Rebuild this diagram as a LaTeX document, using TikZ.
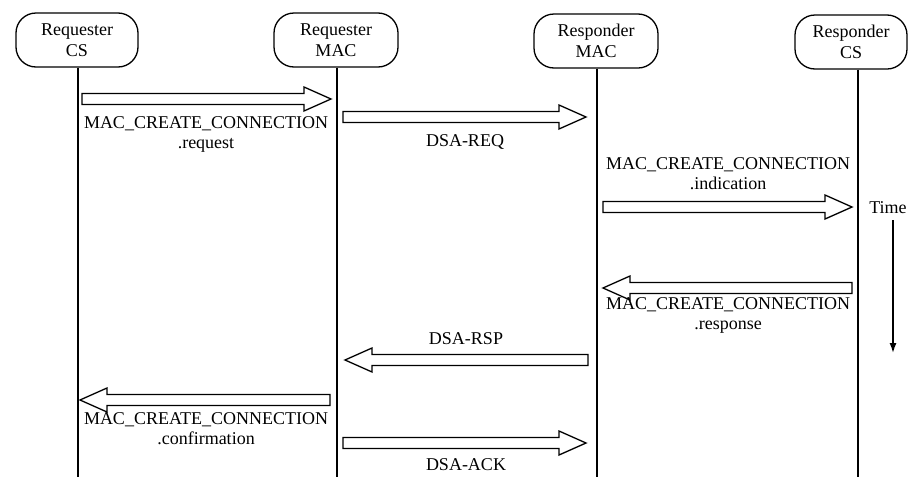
\documentclass[tikz,border=0pt]{standalone}
\usepackage{fontspec}
\setmainfont{Liberation Serif}
\newfontfamily\diagfont{Liberation Serif}
\usetikzlibrary{calc,arrows.meta}
% hollow block arrow from #1 to #2 (horizontal)
\newcommand\blockarrow[2]{%
  \draw[blk] ($(#1)+(0,-5.5)$) -- ($(#2)!27pt!(#1)+(0,-5.5)$)
    -- ($(#2)!27pt!(#1)+(0,-12)$) -- (#2)
    -- ($(#2)!27pt!(#1)+(0,12)$) -- ($(#2)!27pt!(#1)+(0,5.5)$)
    -- ($(#1)+(0,5.5)$) -- cycle;}
\begin{document}
\begin{tikzpicture}[x=1pt,y=-1pt,
  party/.style={draw, line width=1.3pt, rounded corners=20pt,
    minimum height=54pt, align=center,
    font=\diagfont\fontsize{18}{21}\selectfont, inner sep=0pt},
  life/.style={line width=1.8pt},
  msg/.style={align=center, font=\diagfont\fontsize{18}{20}\selectfont, inner sep=0pt},
  blk/.style={draw, line width=1.3pt, fill=white, line join=miter}]
\useasboundingbox (0,0) rectangle (912,477);

% participants
\node[party, minimum width=122pt] (h1) at (77,40) {Requester\\CS};
\node[party, minimum width=124pt] (h2) at (336,40) {Requester\\MAC};
\node[party, minimum width=124pt] (h3) at (596,41) {Responder\\MAC};
\node[party, minimum width=112pt] (h4) at (851,42) {Responder\\CS};

% lifelines
\coordinate (b1) at (78,477);
\coordinate (b2) at (337,477);
\coordinate (b3) at (597,477);
\coordinate (b4) at (858,477);
\draw[life] (h1.south -| b1) -- (b1);
\draw[life] (h2.south -| b2) -- (b2);
\draw[life] (h3.south -| b3) -- (b3);
\draw[life] (h4.south -| b4) -- (b4);

% message end points
\coordinate (m1s) at (82,99);   \coordinate (m1e) at (331,99);
\coordinate (m2s) at (343,117); \coordinate (m2e) at (586,117);
\coordinate (m3s) at (603,207); \coordinate (m3e) at (852,207);
\coordinate (m4s) at (852,288); \coordinate (m4e) at (603,288);
\coordinate (m5s) at (588,360); \coordinate (m5e) at (345,360);
\coordinate (m6s) at (330,400); \coordinate (m6e) at (80,400);
\coordinate (m7s) at (343,443); \coordinate (m7e) at (586,443);

\blockarrow{m1s}{m1e}
\blockarrow{m2s}{m2e}
\blockarrow{m3s}{m3e}
\blockarrow{m4s}{m4e}
\blockarrow{m5s}{m5e}
\blockarrow{m6s}{m6e}
\blockarrow{m7s}{m7e}

% message labels
\node[msg] (l1) at (206,134) {MAC\_CREATE\_CONNECTION\\.request};
\node[msg] (l2) at (465,142) {DSA-REQ};
\node[msg] (l3) at (728,174) {MAC\_CREATE\_CONNECTION\\.indication};
\node[msg] (l4) at (728,315) {MAC\_CREATE\_CONNECTION\\.response};
\node[msg] (l5) at (466,339) {DSA-RSP};
\node[msg] (l6) at (206,429) {MAC\_CREATE\_CONNECTION\\.confirmation};
\node[msg] (l7) at (466,465) {DSA-ACK};

% time axis
\node[msg] (time) at (888,208) {Time};
\coordinate (tEnd) at (893,353);
\draw[line width=1.5pt, -{Latex[length=10pt,width=7pt]}] ([yshift=-6pt]time.south -| tEnd) -- (tEnd);
\end{tikzpicture}
\end{document}
